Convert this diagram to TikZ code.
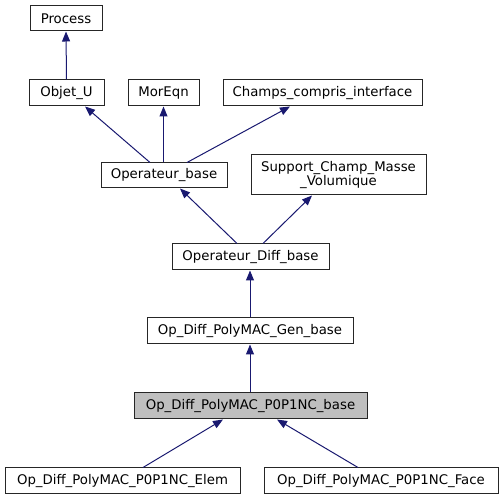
\documentclass[tikz,border=0pt]{standalone}
\usepackage{fontspec}
\setmainfont{DejaVu Sans}
\usetikzlibrary{arrows.meta}
\definecolor{edgecol}{HTML}{191970}
\definecolor{hilite}{HTML}{BFBFBF}
\tikzset{
  cls/.style={draw=black!85, line width=1pt, fill=white, inner sep=0pt, font=\fontsize{13.3}{14.5}\selectfont, align=center},
  arr/.style={draw=edgecol, line width=1pt, {Triangle[length=10pt,width=8pt,fill=edgecol]}-}
}
\begin{document}
\begin{tikzpicture}[x=1pt,y=1pt]
\useasboundingbox (0,0) rectangle (501,500);
\node[cls, minimum width=72pt, minimum height=25pt] (proc) at (66,481.5) {Process};
\node[cls, minimum width=75pt, minimum height=26pt] (obj) at (66.5,407) {Objet\_U};
\node[cls, minimum width=71pt, minimum height=26pt] (mor) at (163.5,407) {MorEqn};
\node[cls, minimum width=199pt, minimum height=26pt] (cha) at (322.5,407) {Champs\_compris\_interface};
\node[cls, minimum width=126pt, minimum height=25pt] (ob) at (164,324.5) {Operateur\_base};
\node[cls, minimum width=175pt, minimum height=40pt] (sup) at (338.5,325) {Support\_Champ\_Masse\\\_Volumique};
\node[cls, minimum width=157pt, minimum height=26pt] (odb) at (250.5,243) {Operateur\_Diff\_base};
\node[cls, minimum width=206pt, minimum height=26pt] (gen) at (250,169) {Op\_Diff\_PolyMAC\_Gen\_base};
\node[cls, fill=hilite, minimum width=233pt, minimum height=26pt] (base) at (250.5,94) {Op\_Diff\_PolyMAC\_P0P1NC\_base};
\node[cls, minimum width=235pt, minimum height=26pt] (elem) at (122.5,19) {Op\_Diff\_PolyMAC\_P0P1NC\_Elem};
\node[cls, minimum width=234pt, minimum height=26pt] (face) at (381,19) {Op\_Diff\_PolyMAC\_P0P1NC\_Face};

\draw[arr] (proc.south) -- (obj.north);
\draw[arr] ([xshift=18.5pt]obj.south) -- ([xshift=-14pt]ob.north);
\draw[arr] (mor.south) -- (ob.north -| mor.south);
\draw[arr] ([xshift=-32.5pt]cha.south) -- ([xshift=23pt]ob.north);
\draw[arr] ([xshift=16pt]ob.south) -- ([xshift=-13.5pt]odb.north);
\draw[arr] ([xshift=-26.5pt]sup.south) -- ([xshift=12.5pt]odb.north);
\draw[arr] (odb.south -| gen.north) -- (gen.north);
\draw[arr] (gen.south) -- (base.north -| gen.south);
\draw[arr] ([xshift=-27.5pt]base.south) -- ([xshift=20.5pt]elem.north);
\draw[arr] ([xshift=26.5pt]base.south) -- ([xshift=-23pt]face.north);
\end{tikzpicture}
\end{document}
